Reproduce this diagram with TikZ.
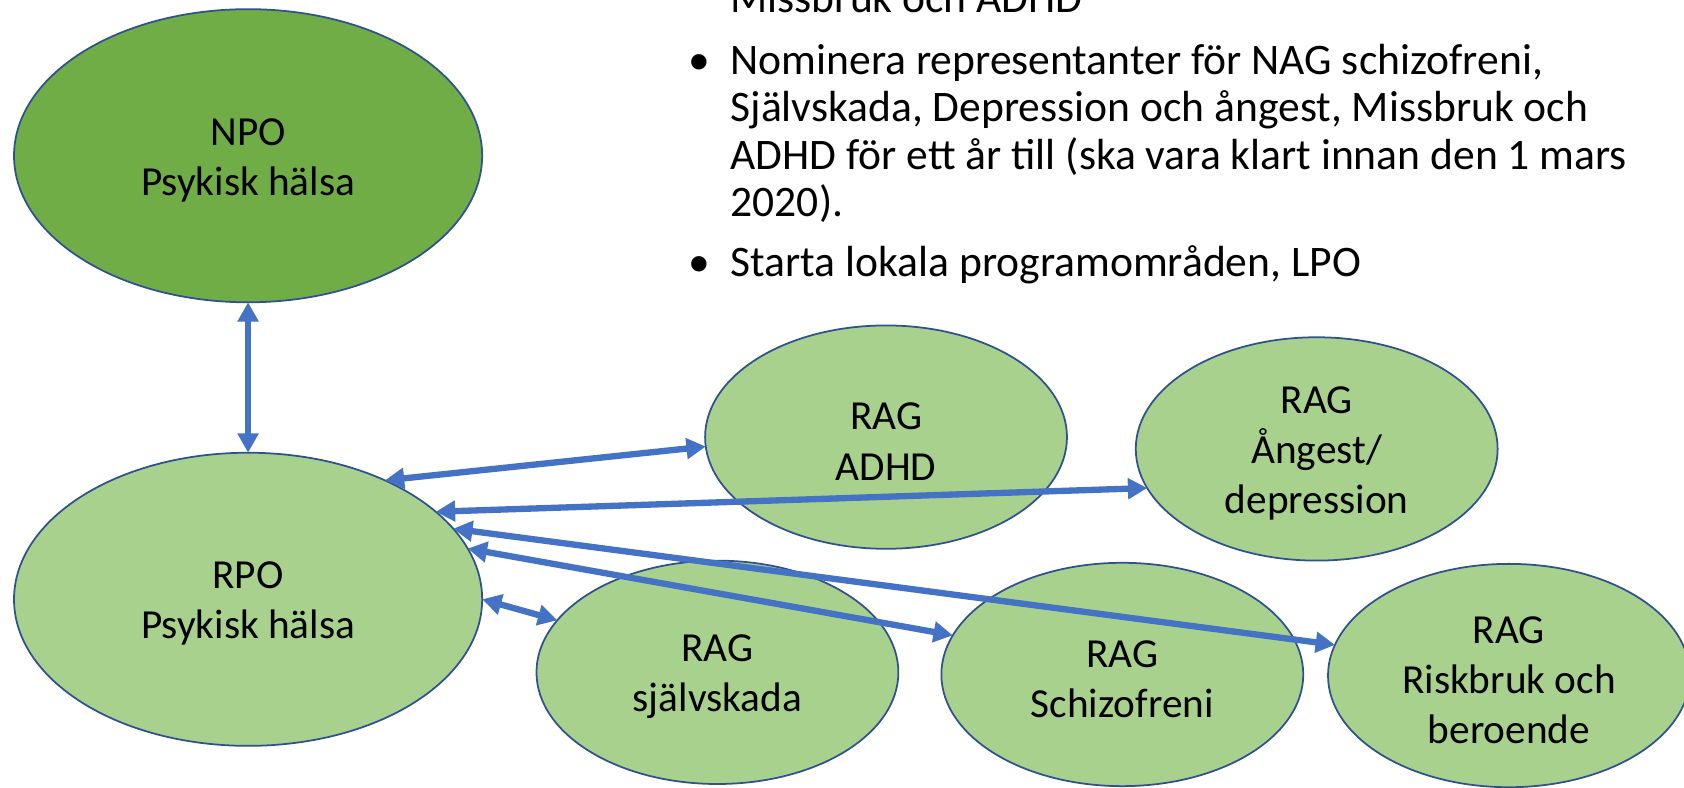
\documentclass[tikz,border=0pt]{standalone}
\usepackage{fontspec}
\setmainfont{Carlito}
\usetikzlibrary{shapes.geometric,arrows.meta}
\definecolor{darkg}{HTML}{70AD47}
\definecolor{lightg}{HTML}{A9D18E}
\definecolor{edgeb}{HTML}{2F528F}
\definecolor{arrowb}{HTML}{4472C4}
\begin{document}
\begin{tikzpicture}[x=0.02148cm,y=-0.02148cm,
  oval/.style={ellipse,draw=edgeb,line width=1pt,fill=lightg,inner sep=0pt,outer sep=0pt},
  big/.style={oval,minimum width=9.365cm,minimum height=5.864cm},
  rag/.style={oval,minimum width=7.239cm,minimum height=4.468cm},
  lbl/.style={inner sep=0pt,align=center,yshift=-0.09cm,font=\fontsize{23.5}{28.5}\selectfont},
  link/.style={draw=arrowb,line width=3.6pt,{Triangle[length=11pt,width=11.5pt]}-{Triangle[length=11pt,width=11.5pt]}},
  bline/.style={anchor=base west,inner sep=0pt,font=\fontsize{24.8}{28}\selectfont}]
\useasboundingbox (0,0) rectangle (1568,733);
\node[big,fill=darkg] (npo) at (231,145) {};
\node[big] (rpo) at (231,558) {};
\node[rag] (adhd) at (825,407) {};
\node[rag] (ang) at (1226,418) {};
\node[rag] (sjalv) at (668,626) {};
\node[rag] (schiz) at (1045,628) {};
\node[rag] (risk) at (1405,629) {};

\node[lbl] (npo-t) at (npo.center) {NPO\\Psykisk hälsa};
\node[lbl] (rpo-t) at (rpo.center) {RPO\\Psykisk hälsa};
\node[lbl] (adhd-t) at (adhd.center) {RAG\\ADHD};
\node[lbl] (ang-t) at (ang.center) {RAG\\Ångest/\\depression};
\node[lbl] (sjalv-t) at (sjalv.center) {RAG\\självskada};
\node[lbl] (schiz-t) at (schiz.center) {RAG\\Schizofreni};
\node[lbl] (risk-t) at (risk.center) {RAG\\Riskbruk och\\beroende};

\draw[link] (npo.south) -- (rpo.north);
\draw[link] (rpo.41.5) -- (adhd.183.4);
\draw[link] (rpo.25.5) -- (ang.193);
\draw[link] (rpo.19.3) -- (risk.170);
\draw[link] (rpo.13.5) -- (schiz.167);
\draw[link] (rpo.0) -- (sjalv.162);

\node[bline] (t0) at (680,12) {Missbruk och ADHD};
\node[bline] (b1) at (641,69) {•};
\node[bline] (t1) at (680,69) {Nominera representanter för NAG schizofreni,};
\node[bline] (t2) at (680,113) {Självskada, Depression och ångest, Missbruk och};
\node[bline] (t3) at (680,158) {ADHD för ett år till (ska vara klart innan den 1 mars};
\node[bline] (t4) at (680,202) {2020).};
\node[bline] (b2) at (641,257) {•};
\node[bline] (t5) at (680,257) {Starta lokala programområden, LPO};
\end{tikzpicture}
\end{document}
